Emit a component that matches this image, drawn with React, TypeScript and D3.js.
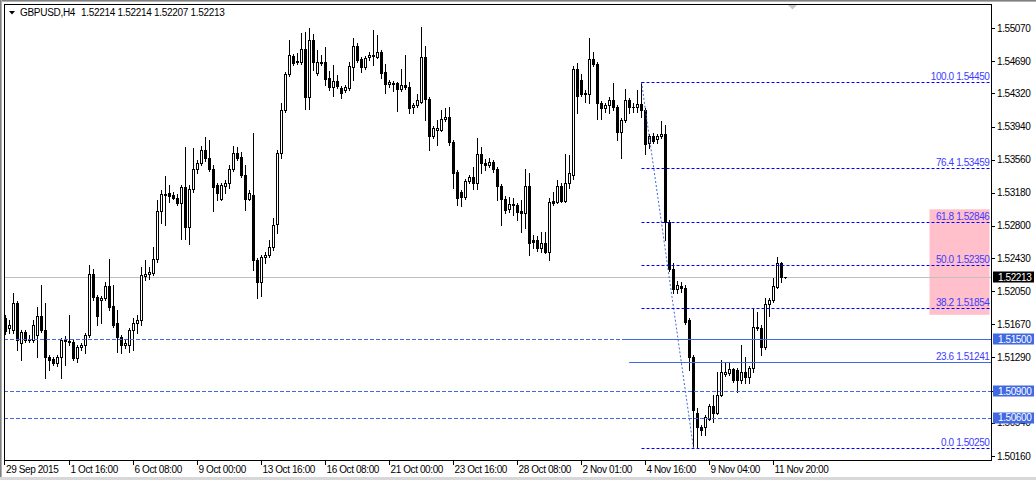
import React from "react";
import * as d3 from "d3";

// GBPUSD H4 candles (oldest first)
const opens = [
  1.51743, 1.51629, 1.51606, 1.51916, 1.51457, 1.51583, 1.51491, 1.51491, 1.51549, 1.51766,
  1.51606, 1.51297, 1.51274, 1.51228, 1.51297, 1.51491, 1.5148, 1.51468, 1.51285, 1.51411,
  1.51434, 1.51549, 1.52248, 1.51985, 1.5195, 1.51973, 1.5211, 1.51881, 1.51687, 1.51526,
  1.51434, 1.51434, 1.51606, 1.51687, 1.51721, 1.52225, 1.52248, 1.5226, 1.52421, 1.52971,
  1.53166, 1.53178, 1.53155, 1.5312, 1.53063, 1.53246, 1.52788, 1.53223, 1.53453, 1.53521,
  1.53671, 1.53579, 1.53453, 1.53269, 1.53109, 1.53258, 1.53292, 1.53453, 1.53636, 1.5359,
  1.53384, 1.53109, 1.53155, 1.52409, 1.52156, 1.52443, 1.52466, 1.52558, 1.52822, 1.53636,
  1.54129, 1.54542, 1.54749, 1.5468, 1.5468, 1.54829, 1.54279, 1.54932, 1.54554, 1.5468,
  1.5468, 1.54496, 1.54393, 1.54462, 1.54382, 1.54359, 1.54382, 1.54623, 1.54864, 1.54714,
  1.54623, 1.54737, 1.5476, 1.54737, 1.54795, 1.54565, 1.54427, 1.54439, 1.54439, 1.5437,
  1.54416, 1.54393, 1.54164, 1.54187, 1.54221, 1.54737, 1.54256, 1.53831, 1.539, 1.539,
  1.54026, 1.54049, 1.53762, 1.53418, 1.53189, 1.53132, 1.53315, 1.53361, 1.53292, 1.53625,
  1.53521, 1.53498, 1.53533, 1.53453, 1.53258, 1.53109, 1.52994, 1.53051, 1.5304, 1.52971,
  1.52948, 1.53258, 1.52638, 1.52638, 1.52547, 1.52604, 1.525, 1.53086, 1.53074, 1.53258,
  1.53086, 1.53292, 1.53384, 1.546, 1.54473, 1.54313, 1.54313, 1.54714, 1.54657, 1.5421,
  1.54152, 1.54187, 1.54244, 1.54164, 1.53877, 1.54015, 1.54244, 1.54164, 1.54164, 1.54198,
  1.54129, 1.53751, 1.53831, 1.53797, 1.53831, 1.53854, 1.52845, 1.52306, 1.52076, 1.5211,
  1.52088, 1.51721, 1.51297, 1.50654, 1.50494, 1.50494, 1.50585, 1.50734, 1.50654, 1.50861,
  1.51101, 1.51113, 1.51159, 1.51147, 1.51032, 1.51124, 1.51067, 1.5117, 1.51629, 1.51629,
  1.51411, 1.51904, 1.5195, 1.52099, 1.52375, 1.52214,
];
const highs = [
  1.51778, 1.51721, 1.52031, 1.51939, 1.51606, 1.51606, 1.51549, 1.51721, 1.5187, 1.52122,
  1.51916, 1.5132, 1.51297, 1.5132, 1.51514, 1.51537, 1.51778, 1.51491, 1.51434, 1.51457,
  1.51572, 1.52352, 1.52306, 1.52008, 1.51996, 1.52156, 1.52421, 1.52122, 1.51835, 1.51549,
  1.51491, 1.51629, 1.51743, 1.51778, 1.52329, 1.52409, 1.52329, 1.52558, 1.53097, 1.53212,
  1.53372, 1.53269, 1.53189, 1.53166, 1.53269, 1.53705, 1.53269, 1.53694, 1.53556, 1.53717,
  1.5382, 1.53785, 1.53498, 1.53292, 1.53292, 1.53326, 1.53498, 1.53717, 1.53705, 1.53648,
  1.53498, 1.53212, 1.53866, 1.52432, 1.52466, 1.525, 1.52638, 1.52891, 1.53671, 1.5421,
  1.54565, 1.54932, 1.54772, 1.54783, 1.55012, 1.55024, 1.5507, 1.55001, 1.54818, 1.5476,
  1.54851, 1.54577, 1.54646, 1.5453, 1.54405, 1.54416, 1.5468, 1.54955, 1.54898, 1.54737,
  1.54749, 1.54795, 1.55047, 1.5499, 1.54818, 1.54657, 1.54473, 1.54462, 1.5445, 1.546,
  1.5476, 1.5445, 1.5421, 1.54313, 1.55081, 1.54864, 1.54279, 1.53946, 1.54015, 1.54129,
  1.54152, 1.54164, 1.53785, 1.53441, 1.53212, 1.53338, 1.53384, 1.53476, 1.53808, 1.53705,
  1.53567, 1.53579, 1.53556, 1.53476, 1.53281, 1.53143, 1.53132, 1.5312, 1.53063, 1.53097,
  1.53453, 1.53407, 1.52696, 1.52684, 1.5273, 1.5273, 1.5312, 1.53189, 1.53326, 1.53292,
  1.53625, 1.53613, 1.54634, 1.54669, 1.54542, 1.54359, 1.54955, 1.54795, 1.5468, 1.54233,
  1.5421, 1.54279, 1.54439, 1.54187, 1.54038, 1.5437, 1.54267, 1.5421, 1.54359, 1.5445,
  1.54152, 1.53854, 1.53866, 1.53854, 1.54003, 1.53958, 1.52868, 1.52375, 1.52168, 1.52156,
  1.52122, 1.51743, 1.5132, 1.50711, 1.50517, 1.50631, 1.50757, 1.50861, 1.51124, 1.51262,
  1.51228, 1.51228, 1.5117, 1.5117, 1.51434, 1.51297, 1.51193, 1.51858, 1.51812, 1.51664,
  1.51973, 1.51973, 1.52202, 1.52443, 1.52386, 1.52214,
];
const lows = [
  1.5156, 1.51572, 1.51572, 1.51377, 1.51262, 1.51468, 1.51468, 1.51468, 1.51297, 1.51583,
  1.51055, 1.51147, 1.51205, 1.51193, 1.51055, 1.51205, 1.51434, 1.51262, 1.51239, 1.51377,
  1.51343, 1.51526, 1.5195, 1.51664, 1.51687, 1.5195, 1.51835, 1.51641, 1.51354, 1.51343,
  1.514, 1.51354, 1.51377, 1.51572, 1.51664, 1.52179, 1.52191, 1.52237, 1.52386, 1.52834,
  1.52811, 1.53074, 1.53109, 1.5304, 1.5265, 1.5265, 1.52592, 1.53189, 1.53407, 1.53498,
  1.53544, 1.5343, 1.52971, 1.53097, 1.53097, 1.53178, 1.53235, 1.5343, 1.53556, 1.53361,
  1.52982, 1.53097, 1.52294, 1.51973, 1.51996, 1.52375, 1.52443, 1.52524, 1.52719, 1.53579,
  1.54106, 1.54519, 1.54646, 1.54657, 1.54657, 1.54141, 1.54141, 1.54588, 1.5453, 1.54646,
  1.54416, 1.54359, 1.5429, 1.54382, 1.54267, 1.54336, 1.54359, 1.54473, 1.5468, 1.54565,
  1.546, 1.54703, 1.54646, 1.54726, 1.54496, 1.54324, 1.54393, 1.54347, 1.54118, 1.54347,
  1.5437, 1.54095, 1.54095, 1.54164, 1.5421, 1.54015, 1.53671, 1.53808, 1.53728, 1.53889,
  1.54003, 1.53728, 1.53235, 1.5304, 1.53028, 1.53109, 1.53292, 1.53223, 1.53223, 1.53407,
  1.53441, 1.53476, 1.53418, 1.53097, 1.52811, 1.52948, 1.52959, 1.52925, 1.52868, 1.5273,
  1.52776, 1.52466, 1.52547, 1.52512, 1.525, 1.52489, 1.52409, 1.5304, 1.53063, 1.53074,
  1.53074, 1.53235, 1.53338, 1.54095, 1.5429, 1.54221, 1.5421, 1.54634, 1.54026, 1.54026,
  1.54106, 1.54095, 1.54129, 1.53785, 1.53579, 1.53992, 1.54095, 1.54106, 1.54106, 1.54049,
  1.53625, 1.53694, 1.53751, 1.53751, 1.53808, 1.52638, 1.52283, 1.52031, 1.52031, 1.52042,
  1.51675, 1.51147, 1.5025, 1.5026, 1.50402, 1.50402, 1.50574, 1.50551, 1.50642, 1.50849,
  1.51078, 1.5109, 1.51009, 1.50895, 1.50998, 1.50998, 1.50998, 1.51124, 1.51606, 1.5132,
  1.51388, 1.51766, 1.51927, 1.52088, 1.52156, 1.52207,
];
const closes = [
  1.51595, 1.51664, 1.51916, 1.51491, 1.51583, 1.51491, 1.51503, 1.51664, 1.51766, 1.51606,
  1.51297, 1.51262, 1.51228, 1.51297, 1.51491, 1.5148, 1.51468, 1.51285, 1.51411, 1.51434,
  1.51549, 1.52248, 1.51985, 1.51766, 1.51973, 1.5211, 1.5187, 1.51664, 1.51526, 1.51434,
  1.51457, 1.51606, 1.51687, 1.51721, 1.52237, 1.52248, 1.52271, 1.52421, 1.52971, 1.53166,
  1.53155, 1.53143, 1.5312, 1.53063, 1.53246, 1.52788, 1.53223, 1.53453, 1.53521, 1.53671,
  1.53579, 1.53453, 1.53246, 1.53178, 1.53269, 1.53292, 1.53453, 1.53636, 1.53579, 1.53384,
  1.53109, 1.53178, 1.52409, 1.52156, 1.52443, 1.52466, 1.52558, 1.52811, 1.53636, 1.54129,
  1.54542, 1.5476, 1.54669, 1.54691, 1.54829, 1.54279, 1.54932, 1.5468, 1.5468, 1.54669,
  1.54485, 1.54393, 1.54462, 1.54405, 1.54324, 1.54393, 1.54634, 1.54864, 1.54703, 1.54623,
  1.54726, 1.5476, 1.54749, 1.54795, 1.54554, 1.54427, 1.5445, 1.54427, 1.5437, 1.54416,
  1.54393, 1.54152, 1.54187, 1.54244, 1.54737, 1.54256, 1.53831, 1.53923, 1.53923, 1.54026,
  1.54049, 1.53762, 1.53407, 1.5312, 1.53132, 1.53315, 1.53361, 1.53292, 1.53625, 1.53521,
  1.53498, 1.53533, 1.53453, 1.53258, 1.53109, 1.52982, 1.53051, 1.5304, 1.52959, 1.52948,
  1.53258, 1.52604, 1.52615, 1.52547, 1.52604, 1.525, 1.53074, 1.53063, 1.53258, 1.53086,
  1.53292, 1.53407, 1.546, 1.5429, 1.54313, 1.54324, 1.54714, 1.54657, 1.5421, 1.54152,
  1.54187, 1.54244, 1.54164, 1.53877, 1.54015, 1.54244, 1.54164, 1.5416, 1.54198, 1.54129,
  1.5374, 1.53831, 1.53774, 1.53831, 1.53854, 1.52845, 1.52306, 1.52076, 1.52122, 1.52088,
  1.51698, 1.51297, 1.50688, 1.50494, 1.50459, 1.50608, 1.50734, 1.50654, 1.50861, 1.51124,
  1.51124, 1.51159, 1.51032, 1.51032, 1.51124, 1.51067, 1.5117, 1.51641, 1.51641, 1.51411,
  1.51904, 1.5195, 1.5211, 1.52375, 1.52213, 1.52213,
];

const priceTicks = [
  1.5507, 1.5469, 1.5432, 1.5394, 1.5356, 1.5318, 1.528, 1.5243, 1.5205, 1.5167, 1.5129,
  1.5091, 1.5054, 1.5016,
];
const timeLabels = [
  "29 Sep 2015", "1 Oct 16:00", "6 Oct 08:00", "9 Oct 00:00", "13 Oct 16:00", "16 Oct 08:00",
  "21 Oct 00:00", "23 Oct 16:00", "28 Oct 08:00", "2 Nov 01:00", "4 Nov 16:00", "9 Nov 04:00",
  "11 Nov 20:00",
];
const barsPerLabel = 16;

// fibonacci retracement between bar 159 high and bar 172 low
const fibHighBar = 159;
const fibLowBar = 172;
const fibHigh = 1.5445;
const fibLow = 1.5025;
const fibLevels = [0, 23.6, 38.2, 50, 61.8, 76.4, 100];

const hLines = [1.515, 1.509, 1.506]; // dashed horizontal lines with axis labels
const trendLines = [
  { price: 1.515, fromBar: 154.4 },
  { price: 1.51241, fromBar: 155.9 },
];
const zone = { fromBar: 231, toBar: 246, top: 1.5299, bottom: 1.5178 };
const lastPrice = 1.52213;
const title = "GBPUSD,H4";
const titleOhlc = "1.52214 1.52214 1.52207 1.52213";

const FONT = "'Liberation Sans', Arial, sans-serif";
const ROYAL = "#4169E1";
const FIB = "#0000ff";

export default function App() {
  const x = d3.scaleLinear().domain([0, 246]).range([5.5, 989.5]);
  const y = d3.scaleLinear().domain([1.5016, 1.5507]).range([456, 28]);
  const py = (p: number) => Math.round(y(p)) + 0.5;
  const fmt = d3.format(".5f");

  const bars = opens.map((o, i) => ({ i, o, h: highs[i], l: lows[i], c: closes[i] }));
  const fx0 = Math.floor(x(fibHighBar)) + 0.5;

  return (
    <div style={{ width: 1036, height: 480 }}>
      <style>{`body{margin:0}`}</style>
      <svg width={1036} height={480} style={{ display: "block" }} fontFamily={FONT} fontSize={10}>
        <rect width={1036} height={480} fill="#fff" />
        {/* window border */}
        <line x1={0} x2={1036} y1={0.5} y2={0.5} stroke="#808080" />
        <line x1={0} x2={1036} y1={1.5} y2={1.5} stroke="#b0b0b0" />
        <line x1={0.5} x2={0.5} y1={0} y2={480} stroke="#808080" />
        <line x1={1.5} x2={1.5} y1={0} y2={480} stroke="#b0b0b0" />
        <rect x={0} y={477} width={1036} height={3} fill="#d8d8d8" />

        <defs>
          <clipPath id="plot">
            <rect x={5} y={5} width={986} height={455} />
          </clipPath>
        </defs>

        <g clipPath="url(#plot)">
          {/* pink zone */}
          <rect
            x={x(zone.fromBar)}
            y={y(zone.top)}
            width={x(zone.toBar) - x(zone.fromBar)}
            height={y(zone.bottom) - y(zone.top)}
            fill="#FFC0CB"
          />
          {/* bid line */}
          <line x1={4} x2={991} y1={py(lastPrice)} y2={py(lastPrice)} stroke="#c0c0c0" />

          {/* candles */}
          {bars.map((b) => {
            const cx = Math.floor(x(b.i)) + 0.5;
            const yh = Math.round(y(b.h));
            const yl = Math.round(y(b.l));
            const yo = Math.round(y(b.o));
            const yc = Math.round(y(b.c));
            const top = Math.min(yo, yc);
            const bot = Math.max(yo, yc);
            let body;
            if (top === bot) {
              body = <line x1={cx - 1.5} x2={cx + 1.5} y1={top + 0.5} y2={top + 0.5} stroke="#000" />;
            } else if (b.c > b.o) {
              body = (
                <rect x={cx - 1} y={top + 0.5} width={2} height={bot - top} fill="#fff" stroke="#000" />
              );
            } else {
              body = <rect x={cx - 1.5} y={top} width={3} height={bot - top + 1} fill="#000" />;
            }
            return (
              <g key={b.i}>
                <line x1={cx} x2={cx} y1={yh} y2={yl + 1} stroke="#000" />
                {body}
              </g>
            );
          })}

          {/* horizontal dashed lines */}
          {hLines.map((p) => (
            <line key={p} x1={4} x2={991} y1={py(p)} y2={py(p)} stroke={ROYAL} strokeDasharray="4,2" />
          ))}
          {trendLines.map((t) => (
            <line key={t.price} x1={x(t.fromBar)} x2={991} y1={py(t.price)} y2={py(t.price)} stroke={ROYAL} />
          ))}

          {/* fibonacci */}
          <line
            x1={fx0}
            y1={y(fibHigh)}
            x2={Math.floor(x(fibLowBar)) + 0.5}
            y2={y(fibLow)}
            stroke={ROYAL}
            strokeDasharray="2,2"
          />
          {fibLevels.map((lv) => {
            const p = fibLow + ((fibHigh - fibLow) * lv) / 100;
            return (
              <g key={lv}>
                {lv !== 23.6 && (
                  <line x1={fx0} x2={991} y1={py(p)} y2={py(p)} stroke={FIB} strokeDasharray="3,2" />
                )}
                <text x={989.5} y={py(p) - 2.5} textAnchor="end" fill="#3c3cff" letterSpacing={-0.4}>
                  {`${lv.toFixed(1)} ${fmt(p)}`}
                </text>
              </g>
            );
          })}
        </g>

        {/* title */}
        <polygon points="9,11 15,11 12,14.5" fill="#000" />
        <text x={20} y={16} fill="#000" letterSpacing={-0.3}>{title}</text>
        <text x={81} y={16} fill="#000" letterSpacing={-0.3}>{titleOhlc}</text>
        <polygon points="788,5 797,5 792.5,9.5" fill="#c8c8c8" />

        {/* frame */}
        <rect x={4.5} y={4.5} width={987} height={456} fill="none" stroke="#000" />

        {/* price axis */}
        {priceTicks.map((p) => (
          <g key={p}>
            <line x1={991} x2={995} y1={py(p)} y2={py(p)} stroke="#000" />
            <text x={997} y={y(p)} dy="0.35em" fill="#000" letterSpacing={-0.4}>
              {fmt(p)}
            </text>
          </g>
        ))}
        {hLines.map((p) => (
          <g key={p}>
            <rect x={993} y={Math.round(y(p)) - 5.5} width={41} height={11} fill={ROYAL} />
            <text x={998} y={y(p)} dy="0.35em" fill="#fff" letterSpacing={-0.4}>
              {fmt(p)}
            </text>
          </g>
        ))}
        <rect x={993} y={Math.round(y(lastPrice)) - 5.5} width={41} height={11} fill="#000" />
        <text x={998} y={y(lastPrice)} dy="0.35em" fill="#fff" letterSpacing={-0.4}>
          {fmt(lastPrice)}
        </text>

        {/* time axis */}
        {timeLabels.map((t, k) => {
          const tx = Math.floor(x(k * barsPerLabel)) + 0.5;
          return (
            <g key={t}>
              <line x1={k === 0 ? 4.5 : tx} x2={k === 0 ? 4.5 : tx} y1={460} y2={465} stroke="#000" />
              <text x={k === 0 ? 6 : tx + 1} y={473} fill="#000" letterSpacing={-0.4}>
                {t}
              </text>
            </g>
          );
        })}
      </svg>
    </div>
  );
}
